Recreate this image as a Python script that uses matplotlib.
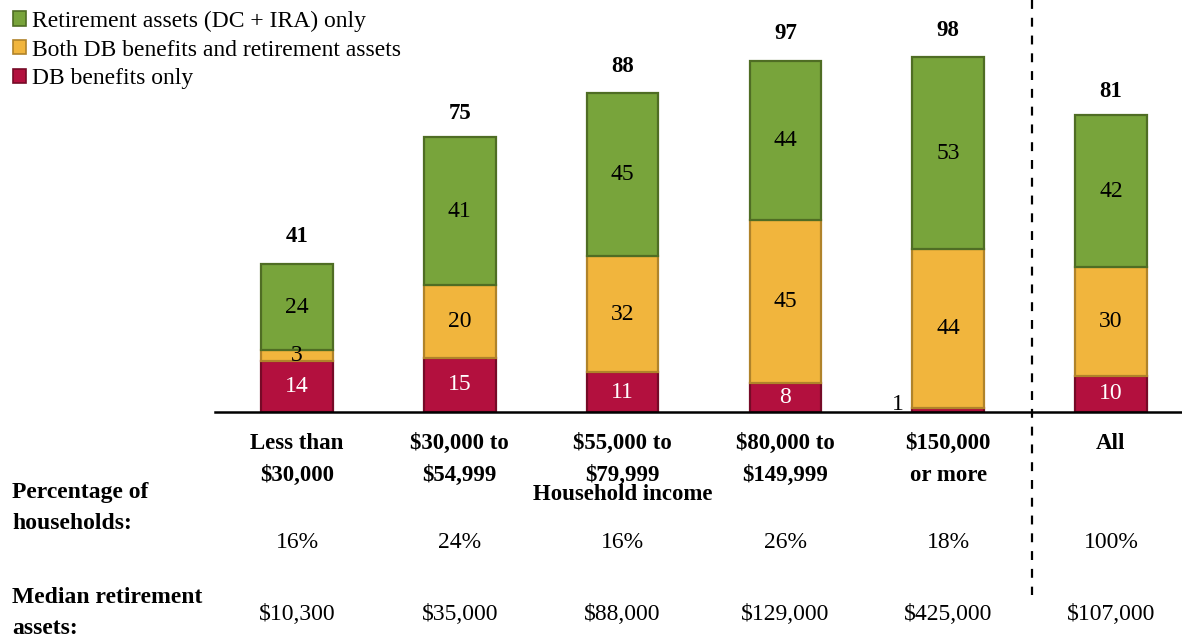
import numpy as np
import matplotlib
matplotlib.use('Agg')
from matplotlib import pyplot as plt

# data ------------------------------------------------------------
categories  = ['Less than\n$30,000', '$30,000 to\n$54,999', '$55,000 to\n$79,999',
               '$80,000 to\n$149,999', '$150,000\nor more', 'All']
db_only     = np.array([14, 15, 11, 8, 1, 10])
both        = np.array([3, 20, 32, 45, 44, 30])
ret_only    = np.array([24, 41, 45, 44, 53, 42])
totals      = np.array([41, 75, 88, 97, 98, 81])
pct_hh      = ['16%', '24%', '16%', '26%', '18%', '100%']
median_ret  = ['$10,300', '$35,000', '$88,000', '$129,000', '$425,000', '$107,000']
legend_lbls = ['Retirement assets (DC + IRA) only',
               'Both DB benefits and retirement assets',
               'DB benefits only']
# -----------------------------------------------------------------

plt.rcParams['font.family'] = ['Liberation Serif', 'DejaVu Serif']
fontsize = 17
fs_bold  = 16.5

c_green, e_green = '#78a43b', '#4f6d24'
c_yel,   e_yel   = '#f1b53d', '#b0832a'
c_red,   e_red   = '#b3103e', '#760a27'

W, H = 1182, 638
fig = plt.figure(figsize=(W/100, H/100), dpi=100)
ax = fig.add_axes([215/W, 1-412/H, 1-215/W, 412/H])

x = np.arange(len(categories))
width = 0.44
ax.bar(x, db_only, width, color=c_red, edgecolor=e_red, linewidth=1.6)
ax.bar(x, both, width, bottom=db_only, color=c_yel, edgecolor=e_yel, linewidth=1.6)
ax.bar(x, ret_only, width, bottom=db_only+both, color=c_green, edgecolor=e_green, linewidth=1.6)

ax.set_xlim(-0.504, 5.436)
ax.set_ylim(0, 113.8)
for s in ['top', 'right', 'left']:
    ax.spines[s].set_visible(False)
ax.spines['bottom'].set_linewidth(1.8)
ax.set_xticks([])
ax.set_yticks([])

# segment labels
for i in range(len(x)):
    if db_only[i] >= 5:
        ax.text(x[i], db_only[i]/2, str(db_only[i]), ha='center', va='center',
                color='white', fontsize=fontsize)
    else:
        ax.text(x[i]-0.27, db_only[i]/2 + 1.5, str(db_only[i]), ha='right', va='center',
                color='k', fontsize=fontsize)
    ax.text(x[i], db_only[i] + both[i]/2, str(both[i]), ha='center', va='center',
            color='k', fontsize=fontsize)
    ax.text(x[i], db_only[i] + both[i] + ret_only[i]/2, str(ret_only[i]), ha='center',
            va='center', color='k', fontsize=fontsize)
    ax.text(x[i], totals[i] + 7.5, str(totals[i]), ha='center', va='center',
            color='k', fontsize=fs_bold, fontweight='bold')

# table below the bars (figure pixel coordinates)
def fx(px):
    return px / W

def fy(py):
    return 1 - py / H

xpix = 297 + 162.8 * x
for i in range(len(x)):
    fig.text(fx(xpix[i]), fy(433), categories[i], ha='center', va='top',
             fontsize=fs_bold, fontweight='bold', linespacing=1.7)
    fig.text(fx(xpix[i]), fy(542), pct_hh[i], ha='center', va='center', fontsize=fontsize)
    fig.text(fx(xpix[i]), fy(614), median_ret[i], ha='center', va='center', fontsize=fontsize)

fig.text(fx(623), fy(494), 'Household income', ha='center', va='center',
         fontsize=fs_bold, fontweight='bold')
fig.text(fx(12), fy(508), 'Percentage of\nhouseholds:', ha='left', va='center',
         fontsize=fs_bold + 0.5, fontweight='bold', linespacing=1.6)
fig.text(fx(12), fy(613), 'Median retirement\nassets:', ha='left', va='center',
         fontsize=fs_bold + 0.5, fontweight='bold', linespacing=1.6)

# dashed separator
fig.add_artist(plt.Line2D([fx(1032), fx(1032)], [fy(0), fy(595)], color='k',
                          linestyle=(0, (4, 4)), linewidth=1.6))

# legend
hands = [plt.Rectangle((0, 0), 1, 1, facecolor=c, edgecolor=e, linewidth=1.2)
         for c, e in [(c_green, e_green), (c_yel, e_yel), (c_red, e_red)]]
fig.legend(hands, legend_lbls, loc='upper left', bbox_to_anchor=(fx(8), fy(6)),
           frameon=False, fontsize=fontsize, handlelength=0.55, handleheight=0.55,
           handletextpad=0.25, labelspacing=0.33, borderaxespad=0, borderpad=0.2)

plt.savefig('out.png', dpi=100)
